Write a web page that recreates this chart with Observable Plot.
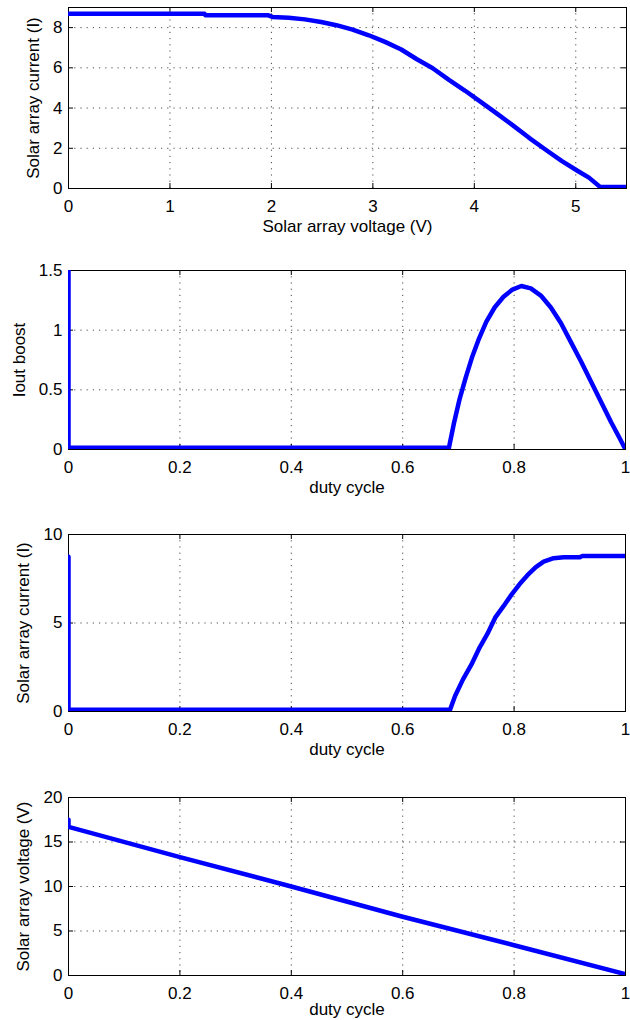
<!DOCTYPE html>
<html>
<head>
<meta charset="utf-8">
<script src="https://cdn.jsdelivr.net/npm/d3@7"></script>
<script src="https://cdn.jsdelivr.net/npm/@observablehq/plot@0.6"></script>
<style>
  body { margin: 0; background: #fff; width: 630px; height: 1020px; overflow: hidden; }
  #chart svg { display: block; }
</style>
</head>
<body>
<div id="chart"></div>
<script>
// Panel 1: I-V curve
const ivVoltage = [0, 1.34, 1.35, 1.97, 2.01, 2.17, 2.33, 2.49, 2.64, 2.80, 2.96, 3.12, 3.28, 3.43, 3.59, 3.75, 3.91, 4.07, 4.23, 4.38, 4.54, 4.70, 4.86, 5.02, 5.13, 5.24, 5.5];
const ivCurrent = [8.69, 8.69, 8.61, 8.61, 8.53, 8.49, 8.41, 8.28, 8.12, 7.90, 7.62, 7.29, 6.91, 6.44, 5.98, 5.40, 4.86, 4.28, 3.70, 3.14, 2.52, 1.94, 1.37, 0.87, 0.54, 0.08, 0.08];

// Panel 2: Iout boost vs duty cycle
const dutyBoost = [0, 0, 0.683, 0.692, 0.702, 0.713, 0.725, 0.737, 0.750, 0.765, 0.781, 0.797, 0.813, 0.830, 0.848, 0.866, 0.884, 0.902, 0.920, 0.938, 0.956, 0.974, 0.990, 1.0];
const ioutBoost = [1.5, 0.015, 0.015, 0.22, 0.42, 0.60, 0.78, 0.93, 1.07, 1.19, 1.28, 1.34, 1.37, 1.35, 1.29, 1.19, 1.06, 0.90, 0.74, 0.57, 0.40, 0.23, 0.09, 0.0];

// Panel 3: solar array current vs duty cycle
const dutyCurrent = [0, 0, 0.685, 0.694, 0.708, 0.723, 0.737, 0.752, 0.766, 0.781, 0.795, 0.810, 0.824, 0.839, 0.853, 0.871, 0.889, 0.918, 0.922, 1.0];
const arrayCurrent = [8.75, 0.1, 0.1, 0.88, 1.80, 2.63, 3.55, 4.38, 5.30, 5.95, 6.59, 7.20, 7.70, 8.16, 8.47, 8.66, 8.71, 8.71, 8.78, 8.78];

// Panel 4: solar array voltage vs duty cycle
const dutyVoltage = [0, 0, 0.2, 0.4, 0.6, 0.8, 1.0];
const arrayVoltage = [17.5, 16.7, 13.3, 10.0, 6.6, 3.4, 0.15];

// Tick labels
const ivXTicks = [0, 1, 2, 3, 4, 5];
const ivYTicks = [0, 2, 4, 6, 8];
const dutyTicks = [0, 0.2, 0.4, 0.6, 0.8, 1];
const boostYTicks = [0, 0.5, 1, 1.5];
const currentYTicks = [0, 5, 10];
const voltageYTicks = [0, 5, 10, 15, 20];

// Axis titles
const xTitles = ["Solar array voltage (V)", "duty cycle", "duty cycle", "duty cycle"];
const yTitles = ["Solar array current (I)", "Iout boost", "Solar array current (I)", "Solar array voltage (V)"];

const panels = [
  {x: ivVoltage, y: ivCurrent, xDomain: [0, 5.5], yDomain: [0, 9], xTicks: ivXTicks, yTicks: ivYTicks,
   height: 250, marginTop: 7, marginBottom: 62, marginRight: 4, yDx: -35, xDy: 38.5},
  {x: dutyBoost, y: ioutBoost, xDomain: [0, 1], yDomain: [0, 1.5], xTicks: dutyTicks, yTicks: boostYTicks,
   height: 263, marginTop: 20, marginBottom: 64, marginRight: 5, yDx: -49, xDy: 38.5},
  {x: dutyCurrent, y: arrayCurrent, xDomain: [0, 1], yDomain: [0, 10], xTicks: dutyTicks, yTicks: currentYTicks,
   height: 263, marginTop: 21, marginBottom: 65, marginRight: 5, yDx: -45, xDy: 38.5},
  {x: dutyVoltage, y: arrayVoltage, xDomain: [0, 1], yDomain: [0, 20], xTicks: dutyTicks, yTicks: voltageYTicks,
   height: 244, marginTop: 21, marginBottom: 45, marginRight: 5, yDx: -45, xDy: 34.5}
];

const fmt = d => `${d}`;
const gridStyle = {stroke: "#000", strokeOpacity: 0.7, strokeDasharray: "1.2,5"};

panels.forEach((p, i) => {
  const data = p.x.map((x, j) => ({x, y: p.y[j]}));
  const marginLeft = 68;
  const H = p.height - p.marginTop - p.marginBottom;
  const W = 630 - marginLeft - p.marginRight;
  const chart = Plot.plot({
    width: 630,
    height: p.height,
    marginLeft,
    marginRight: p.marginRight,
    marginTop: p.marginTop,
    marginBottom: p.marginBottom,
    style: {fontFamily: "'Liberation Sans', Arial, Helvetica, sans-serif", fontSize: "17px", color: "#000", background: "#fff", overflow: "visible"},
    x: {domain: p.xDomain},
    y: {domain: p.yDomain},
    marks: [
      Plot.gridX(p.xTicks, gridStyle),
      Plot.gridY(p.yTicks, gridStyle),
      Plot.ruleX(p.xTicks, {stroke: "#000", insetTop: H - 5}),
      Plot.ruleX(p.xTicks, {stroke: "#000", insetBottom: H - 5}),
      Plot.ruleY(p.yTicks, {stroke: "#000", insetRight: W - 5}),
      Plot.ruleY(p.yTicks, {stroke: "#000", insetLeft: W - 5}),
      Plot.frame({stroke: "#000"}),
      Plot.line(data, {x: "x", y: "y", stroke: "#0000ff", strokeWidth: 4.5, strokeLinejoin: "round", clip: true}),
      Plot.axisX(p.xTicks, {tickSize: 0, tickPadding: 11, tickFormat: fmt, label: null}),
      Plot.axisY(p.yTicks, {tickSize: 0, tickPadding: 6, tickFormat: fmt, label: null}),
      Plot.text([xTitles[i]], {text: d => d, frameAnchor: "bottom", textAnchor: "middle", lineAnchor: "middle", dy: p.xDy}),
      Plot.text([yTitles[i]], {text: d => d, frameAnchor: "left", textAnchor: "middle", lineAnchor: "middle", rotate: -90, dx: p.yDx})
    ]
  });
  document.getElementById("chart").appendChild(chart);
});
</script>
</body>
</html>
